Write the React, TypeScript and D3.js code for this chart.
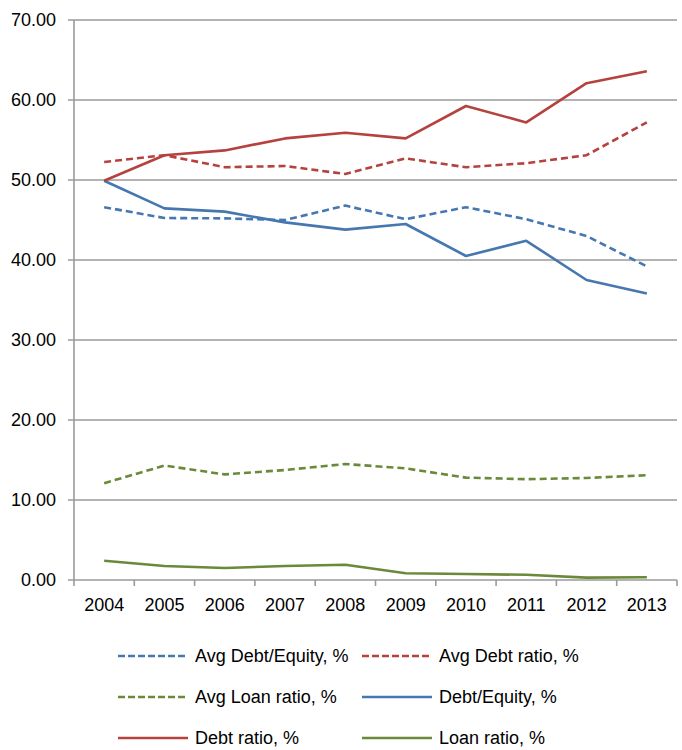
import React from "react";
import * as d3 from "d3";

const years = ["2004","2005","2006","2007","2008","2009","2010","2011","2012","2013"];
const avgDebtEquity = [46.6,45.25,45.2,45.0,46.8,45.1,46.6,45.1,43.0,39.2];
const avgDebtRatio = [52.25,53.1,51.6,51.75,50.75,52.7,51.6,52.1,53.1,57.2];
const avgLoanRatio = [12.1,14.3,13.2,13.75,14.5,13.95,12.8,12.6,12.75,13.1];
const debtEquity = [49.9,46.45,46.05,44.7,43.8,44.5,40.5,42.4,37.5,35.8];
const debtRatio = [49.9,53.1,53.7,55.2,55.9,55.2,59.25,57.2,62.1,63.6];
const loanRatio = [2.4,1.75,1.5,1.75,1.9,0.85,0.75,0.65,0.3,0.35];
const yTicks = [0,10,20,30,40,50,60,70];

const BLUE = "#4677B0";
const RED = "#B5423F";
const GREEN = "#6A8A3A";

const series = [
  { name: "Avg Debt/Equity, %", values: avgDebtEquity, color: BLUE, dashed: true },
  { name: "Avg Debt ratio, %", values: avgDebtRatio, color: RED, dashed: true },
  { name: "Avg Loan ratio, %", values: avgLoanRatio, color: GREEN, dashed: true },
  { name: "Debt/Equity, %", values: debtEquity, color: BLUE, dashed: false },
  { name: "Debt ratio, %", values: debtRatio, color: RED, dashed: false },
  { name: "Loan ratio, %", values: loanRatio, color: GREEN, dashed: false },
];

export default function App() {
  const W = 682, H = 750;
  const left = 74, right = 677, top = 20, bottom = 580;
  const x = d3.scaleBand<string>().domain(years).range([left, right]);
  const y = d3.scaleLinear().domain([0, 70]).range([bottom, top]);
  const line = d3.line<number>()
    .x((_, i) => (x(years[i]) as number) + x.bandwidth() / 2)
    .y((d) => y(d));
  const font = "Liberation Sans, Arial, sans-serif";
  const grid = "#9a9a9a";
  const legendCols = [118, 362];
  const legendRows = [656, 697, 738];
  const tickXs = years.map((yr) => x(yr) as number).concat([right]);
  return (
    <svg width={W} height={H} style={{ position: "absolute", left: 0, top: 0 }} fontFamily={font}>
      {yTicks.map((t) => (
        <g key={t}>
          <line x1={left - 6} x2={right} y1={y(t)} y2={y(t)} stroke={grid} strokeWidth={1.6} />
          <text x={56} y={y(t)} dy="0.36em" textAnchor="end" fontSize={18} fill="#000">
            {t.toFixed(2)}
          </text>
        </g>
      ))}
      <line x1={left} x2={left} y1={top} y2={bottom} stroke={grid} strokeWidth={1.6} />
      {tickXs.map((tx, i) => (
        <line key={i} x1={tx} x2={tx} y1={bottom} y2={bottom + 6} stroke={grid} strokeWidth={1.6} />
      ))}
      {years.map((yr) => (
        <text key={yr} x={(x(yr) as number) + x.bandwidth() / 2} y={611} textAnchor="middle" fontSize={18} fill="#000">
          {yr}
        </text>
      ))}
      {series.map((s) => (
        <path key={s.name} d={line(s.values) || ""} fill="none" stroke={s.color} strokeWidth={2.6}
          strokeDasharray={s.dashed ? "7,4" : undefined} strokeLinejoin="round" />
      ))}
      {series.map((s, i) => {
        const cx = legendCols[i % 2];
        const cy = legendRows[Math.floor(i / 2)];
        return (
          <g key={"lg" + s.name}>
            <line x1={cx} x2={cx + 70} y1={cy} y2={cy} stroke={s.color} strokeWidth={2.6}
              strokeDasharray={s.dashed ? "7,3" : undefined} />
            <text x={cx + 77} y={cy} dy="0.36em" fontSize={18} fill="#000">{s.name}</text>
          </g>
        );
      })}
    </svg>
  );
}
